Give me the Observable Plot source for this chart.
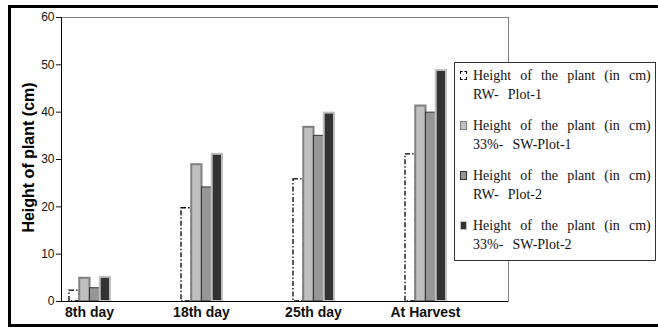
<!DOCTYPE html>
<html>
<head>
<meta charset="utf-8">
<script src="https://cdn.jsdelivr.net/npm/d3@7"></script>
<script src="https://cdn.jsdelivr.net/npm/@observablehq/plot@0.6"></script>
<style>
  body { margin: 0; background: #fff; }
  #chart { position: relative; width: 658px; height: 329px; overflow: hidden; background: #fff; }
  #chart svg { position: absolute; left: 0; top: 0; }
  .outer { position: absolute; left: 8px; top: 5px; width: 660px; height: 322px; box-sizing: border-box; border: 3px solid #000; pointer-events: none; }
  .legend { position: absolute; left: 454px; top: 62px; width: 202px; height: 199px; box-sizing: border-box;
            background: #fff; border: 1px solid #333; padding-top: 3px;
            font-family: "Liberation Serif", "Times New Roman", serif; font-size: 14px; color: #111; word-spacing: 5.6px; }
  .entry { position: relative; height: 38px; margin-bottom: 12px; padding-left: 18px; line-height: 19px; white-space: nowrap; }
  .swatch { position: absolute; left: 5px; top: 5px; width: 7px; height: 9px; box-sizing: border-box; }
</style>
</head>
<body>
<div id="chart"></div>
<script>
// Plant height (cm) at each observation stage, per treatment plot
const periods = ["8th day", "18th day", "25th day", "At Harvest"];
const measure = "Height of the plant (in cm)";
const seriesNames = ["RW- Plot-1", "33%- SW-Plot-1", "RW- Plot-2", "33%- SW-Plot-2"];
const rwPlot1 = [2.3, 19.7, 25.8, 31.1];
const swPlot1 = [4.9, 28.9, 36.8, 41.3];
const rwPlot2 = [2.8, 24.1, 35.0, 39.9];
const swPlot2 = [5.1, 31.1, 39.8, 48.8];
const yTicks = [0, 10, 20, 30, 40, 50, 60];

const seriesValues = [rwPlot1, swPlot1, rwPlot2, swPlot2];
const seriesStyles = [
  {fill: "#ffffff", stroke: "#000000", strokeWidth: 1.3, strokeDasharray: "5,2,1.5,2"},
  {fill: "#c0c0c0", stroke: "#808080", strokeWidth: 2},
  {fill: "#969696", stroke: "#333333", strokeWidth: 1},
  {fill: "#333333", stroke: "#c0c0c0", strokeWidth: 2}
];

const rows = seriesNames.flatMap((s, j) =>
  periods.map((p, i) => ({period: p, series: s, value: seriesValues[j][i]})));

// each stage gets a 112px band; the four bars sit side by side inside it
const band = 112, lead = 36, barW = 10.25;
const bars = seriesNames.map((s, j) =>
  Plot.barY(rows.filter(d => d.series === s), {
    x: "period", y: "value",
    insetLeft: lead + j * barW,
    insetRight: band - lead - (j + 1) * barW,
    ...seriesStyles[j]
  }));

const chart = Plot.plot({
  width: 658, height: 329,
  marginTop: 17, marginBottom: 28, marginLeft: 61, marginRight: 150,
  style: {fontFamily: "'Liberation Sans', Arial, sans-serif", background: "transparent", color: "#111"},
  x: {type: "band", domain: periods, range: [33, 481], padding: 0, label: null},
  y: {domain: [0, 60], label: null},
  marks: [
    Plot.frame({stroke: "#808080"}),
    ...bars,
    Plot.frame({anchor: "left", stroke: "#000"}),
    Plot.ruleY([0], {stroke: "#000"}),
    Plot.axisY(yTicks, {tickSize: 5, tickPadding: 2, fontSize: 12, label: null}),
    Plot.axisX({tickSize: 0, tickPadding: 6, fontSize: 14, fontWeight: "bold", label: null}),
    Plot.text(["Height of plant (cm)"], {
      frameAnchor: "left", textAnchor: "middle", dx: -33, dy: -2, rotate: -90,
      fontSize: 16, fontWeight: "bold", fill: "#000"
    })
  ]
});

const root = document.getElementById("chart");
root.appendChild(chart);

const outer = document.createElement("div");
outer.className = "outer";
root.appendChild(outer);

// legend: one swatch + two text lines per series
const legend = d3.select(root).append("div").attr("class", "legend");
seriesNames.forEach((s, j) => {
  const st = seriesStyles[j];
  const e = legend.append("div").attr("class", "entry");
  e.append("div").attr("class", "swatch")
    .style("background", st.fill)
    .style("border", j === 0 ? "1px dashed #000" : `1.5px solid ${st.stroke}`);
  e.append("div").text(measure);
  e.append("div").text(s);
});
</script>
</body>
</html>
